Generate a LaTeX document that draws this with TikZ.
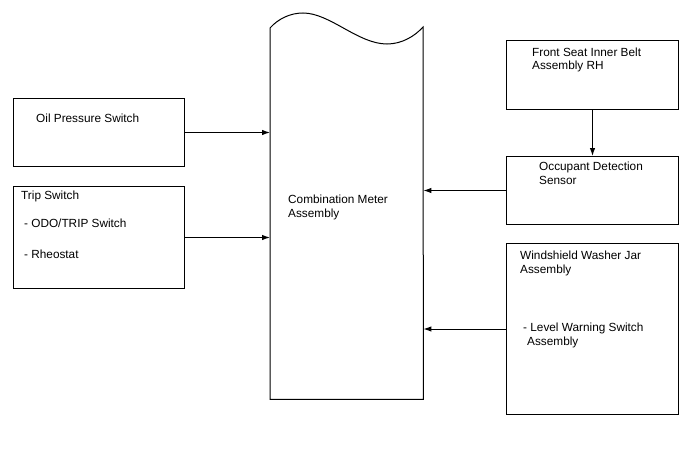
\documentclass[tikz,border=0pt]{standalone}
\usepackage{fontspec}
\setmainfont{Liberation Sans}
\usetikzlibrary{arrows.meta,calc,positioning}

\begin{document}
\begin{tikzpicture}[x=1pt,y=-1pt,>=Latex,
    box/.style={draw,line width=1pt,inner sep=0pt,anchor=north west},
    lbl/.style={anchor=north west,inner sep=0pt,align=left,
      font=\fontsize{11.8}{13.6}\selectfont},
    conn/.style={->,line width=1pt,>={Latex[length=8pt,width=5.5pt]}}]
  \useasboundingbox (0,0) rectangle (688,463);

  % left inputs
  \node[box,minimum width=171pt,minimum height=68pt] (oil) at (13,98) {};
  \node[lbl] (oiltxt) at (36,113.3) {Oil Pressure Switch};
  \node[box,minimum width=171pt,minimum height=102pt] (trip) at (13,186) {};
  \node[lbl] (triptxt) at (21,190.4) {Trip Switch};
  \node[lbl] (odotxt) at (22,218.4) {\,- ODO/TRIP Switch};
  \node[lbl] (rheotxt) at (22,250.2) {\,- Rheostat};

  % meter with wavy top
  \node[inner sep=0pt,minimum width=153pt,minimum height=371pt,anchor=north west]
    (meter) at (270,28) {};
  \draw[line width=1pt] (meter.south west) -- (270,28)
    .. controls (278,19) and (290,13) .. (303,13)
    .. controls (330,13) and (358,44) .. (387,44)
    .. controls (402,44) and (415,36) .. (423,27)
    -- (meter.south east) -- cycle;
  \node[lbl] (metertxt) at (288,194.8) {Combination Meter\\Assembly};

  % right inputs
  \node[box,minimum width=172pt,minimum height=69pt] (front) at (506,40) {};
  \node[lbl] (fronttxt) at (532,47.4) {Front Seat Inner Belt\\Assembly RH};
  \node[box,minimum width=172pt,minimum height=68pt] (occupant) at (506,156) {};
  \node[lbl] (occtxt) at (539,162.2) {Occupant Detection\\Sensor};
  \node[box,minimum width=172pt,minimum height=171pt] (washer) at (506,243) {};
  \node[lbl] (washtxt) at (520,250.7) {Windshield Washer Jar\\Assembly};
  \node[lbl] (leveltxt) at (523,323.1) {- Level Warning Switch\\\hspace*{4pt}Assembly};

  \draw[conn] (oil.east) -- (oil.east -| meter.west);
  \draw[conn] (trip.east) -- (trip.east -| meter.west);
  \draw[conn] (front.south) -- (occupant.north);
  \draw[conn] (occupant.west) -- (occupant.west -| meter.east);
  \draw[conn] (washer.west) -- (washer.west -| meter.east);
\end{tikzpicture}
\end{document}
